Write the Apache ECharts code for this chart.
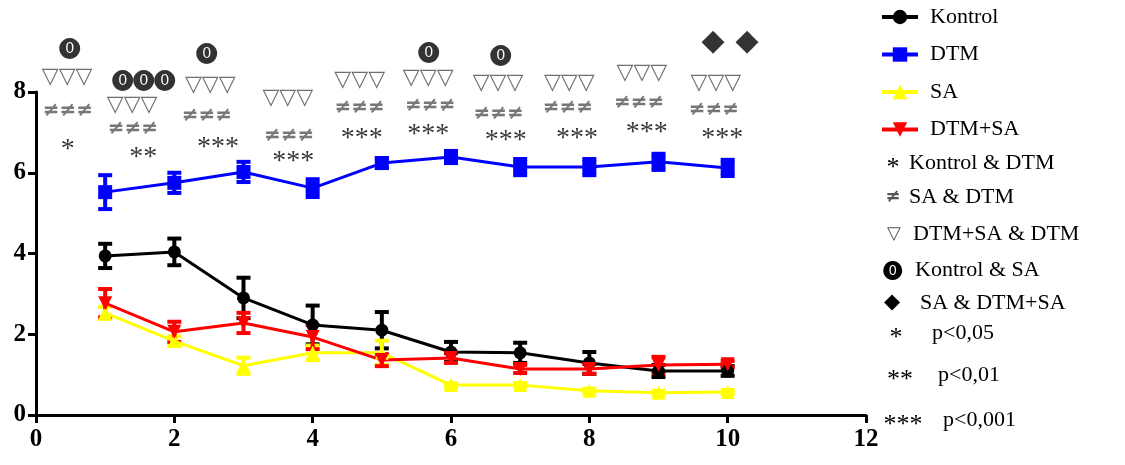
<!DOCTYPE html>
<html>
<head>
<meta charset="utf-8">
<script src="https://cdn.jsdelivr.net/npm/echarts@6/dist/echarts.min.js"></script>
<style>
  html, body { margin: 0; padding: 0; background: #fff; }
  #chart { width: 1125px; height: 465px; }
</style>
</head>
<body>
<div id="chart"></div>
<script>
// Measurement days and group means with error margins
const days = [1, 2, 3, 4, 5, 6, 7, 8, 9, 10];

const kontrol    = [3.94, 4.04, 2.90, 2.23, 2.10, 1.56, 1.54, 1.29, 1.09, 1.09];
const kontrolErr = [0.30, 0.33, 0.50, 0.48, 0.45, 0.25, 0.25, 0.27, 0.15, 0.12];

const dtm    = [5.52, 5.75, 6.02, 5.62, 6.24, 6.39, 6.14, 6.14, 6.27, 6.12];
const dtmErr = [0.42, 0.25, 0.25, 0.22, 0.12, 0.15, 0.20, 0.20, 0.20, 0.20];

const sa    = [2.53, 1.83, 1.22, 1.54, 1.54, 0.74, 0.74, 0.60, 0.55, 0.57];
const saErr = [0.15, 0.12, 0.20, 0.18, 0.30, 0.05, 0.05, 0.05, 0.05, 0.05];

const dtmSa    = [2.77, 2.06, 2.28, 1.93, 1.36, 1.41, 1.14, 1.14, 1.24, 1.26];
const dtmSaErr = [0.35, 0.25, 0.25, 0.30, 0.15, 0.12, 0.10, 0.12, 0.20, 0.08];

// Significance marks above each day: [x, y, text]
const marksKontrolSA = [[0.49, 9.09, '⓿'], [1.56, 8.32, '⓿⓿⓿'], [2.46, 8.97, '⓿'], [5.68, 8.99, '⓿'], [6.72, 8.94, '⓿']];
const marksSaDtmSa   = [[9.79, 9.24], [10.28, 9.24]];
const marksDtmSaDtm  = [[0.45, 8.37], [1.39, 7.68], [2.52, 8.17], [3.64, 7.85], [4.68, 8.30],
                        [5.67, 8.35], [6.68, 8.22], [7.71, 8.22], [8.76, 8.47], [9.83, 8.22]];
const marksSaDtm     = [[0.46, 7.53], [1.40, 7.08], [2.47, 7.41], [3.66, 6.91], [4.68, 7.60],
                        [5.70, 7.65], [6.69, 7.46], [7.69, 7.60], [8.72, 7.73], [9.80, 7.55]];
const marksKontrolDtm = [[0.46, 6.69, '*'], [1.55, 6.51, '**'], [2.63, 6.74, '***'], [3.72, 6.41, '***'], [4.71, 6.98, '***'],
                         [5.67, 7.06, '***'], [6.79, 6.93, '***'], [7.82, 6.98, '***'], [8.83, 7.11, '***'], [9.92, 6.98, '***']];

// Extra legend lines: symbol, text
const keyLines = [
  ['*', 'Kontrol & DTM'],
  ['≠', 'SA & DTM'],
  ['▽', 'DTM+SA & DTM'],
  ['⓿', 'Kontrol & SA'],
  ['◆', 'SA & DTM+SA'],
  ['*', 'p<0,05'],
  ['**', 'p<0,01'],
  ['***', 'p<0,001']
];

const SERIF = 'Liberation Serif';

function errorBars(vals, errs, color) {
  return {
    type: 'custom',
    silent: true,
    data: days.map((d, i) => [d, vals[i] - errs[i], vals[i] + errs[i]]),
    encode: { x: 0, y: [1, 2] },
    renderItem(params, api) {
      const x = api.value(0);
      const lo = api.coord([x, api.value(1)]);
      const hi = api.coord([x, api.value(2)]);
      const w = 7;
      const st = { stroke: color, lineWidth: 4 };
      return {
        type: 'group',
        children: [
          { type: 'line', shape: { x1: lo[0], y1: lo[1], x2: hi[0], y2: hi[1] }, style: st },
          { type: 'line', shape: { x1: lo[0] - w, y1: lo[1], x2: lo[0] + w, y2: lo[1] }, style: st },
          { type: 'line', shape: { x1: hi[0] - w, y1: hi[1], x2: hi[0] + w, y2: hi[1] }, style: st }
        ]
      };
    }
  };
}

function lineSeries(name, vals, color, symbol, size, rotate) {
  return {
    type: 'line',
    name,
    data: days.map((d, i) => [d, vals[i]]),
    symbol,
    symbolSize: size,
    symbolRotate: rotate || 0,
    showAllSymbol: true,
    lineStyle: { color, width: 3 },
    itemStyle: { color, borderWidth: 0 }
  };
}

function markSeries(points, defText, color, fontSize, extra) {
  return {
    type: 'scatter',
    silent: true,
    clip: false,
    symbolSize: 0,
    data: points.map(p => ({ value: [p[0], p[1]], name: p[2] || defText })),
    label: Object.assign({
      show: true,
      position: 'inside',
      formatter: p => p.name,
      color,
      fontSize,
      fontFamily: 'DejaVu Sans'
    }, extra || {})
  };
}

const chart = echarts.init(document.getElementById('chart'), null, { renderer: 'canvas' });

const keyY    = [163, 197, 234, 270, 303, 333, 375, 420];
const keySymX = [893, 893, 894, 892, 892, 896, 900, 903];
const keyTxtX = [909, 909, 913, 915, 920, 932, 938, 943];
const keyDy   = [5, 0, 0, 0, 0, 5, 5, 5];
const keyFont = ['26px "Liberation Serif"', 'bold 18px "DejaVu Sans"', 'bold 18px "DejaVu Sans"', '19px "DejaVu Sans"',
                 '21px "DejaVu Sans"', '26px "Liberation Serif"', '26px "Liberation Serif"', '26px "Liberation Serif"'];
const keyColor = ['#000', '#555', '#555', '#000', '#000', '#000', '#000', '#000'];

const graphics = keyLines.map((k, i) => ({
  type: 'group',
  children: [
    { type: 'text', x: keySymX[i], y: keyY[i] + keyDy[i],
      style: { text: k[0], fill: keyColor[i], font: keyFont[i], align: 'center', verticalAlign: 'middle' } },
    { type: 'text', x: keyTxtX[i], y: keyY[i],
      style: { text: k[1], fill: '#000', font: '22px "' + SERIF + '"', align: 'left', verticalAlign: 'middle' } }
  ]
}));

chart.setOption({
  animation: false,
  backgroundColor: '#fff',
  grid: { left: 36, right: 259, top: 92, bottom: 50, containLabel: false },
  xAxis: {
    type: 'value', min: 0, max: 12, interval: 2,
    axisLine: { lineStyle: { color: '#000', width: 3 } },
    axisTick: { show: true, length: 8, lineStyle: { color: '#000', width: 3 } },
    axisLabel: { color: '#000', fontFamily: SERIF, fontWeight: 'bold', fontSize: 25, margin: 12 },
    splitLine: { show: false }
  },
  yAxis: {
    type: 'value', min: 0, max: 8, interval: 2,
    axisLine: { show: true, lineStyle: { color: '#000', width: 3 } },
    axisTick: { show: true, length: 8, lineStyle: { color: '#000', width: 3 } },
    axisLabel: { color: '#000', fontFamily: SERIF, fontWeight: 'bold', fontSize: 25, margin: 10 },
    splitLine: { show: false }
  },
  legend: {
    orient: 'vertical', left: 875, top: 1,
    itemWidth: 36, itemHeight: 18, itemGap: 15.5,
    lineStyle: { width: 4 },
    textStyle: { fontFamily: SERIF, fontSize: 22, color: '#000', padding: [0, 0, 0, 7] },
    data: ['Kontrol', 'DTM', 'SA', 'DTM+SA']
  },
  graphic: graphics,
  series: [
    errorBars(kontrol, kontrolErr, '#000'),
    lineSeries('Kontrol', kontrol, '#000', 'circle', 13),
    errorBars(dtm, dtmErr, '#0000ff'),
    lineSeries('DTM', dtm, '#0000ff', 'rect', 14),
    errorBars(sa, saErr, '#ffff00'),
    lineSeries('SA', sa, '#ffff00', 'triangle', 14),
    errorBars(dtmSa, dtmSaErr, '#ff0000'),
    lineSeries('DTM+SA', dtmSa, '#ff0000', 'triangle', 14, 180),
    markSeries(marksKontrolSA, '⓿', '#000', 21),
    markSeries(marksSaDtmSa, '◆', '#000', 30),
    markSeries(marksDtmSaDtm, '▽▽▽', '#4a4a4a', 22, { fontWeight: 'bold' }),
    markSeries(marksSaDtm, '≠≠≠', '#555', 20, { fontWeight: 'bold' }),
    markSeries(marksKontrolDtm, '***', '#000', 28, { fontFamily: SERIF, offset: [0, 5] })
  ]
});
</script>
</body>
</html>
